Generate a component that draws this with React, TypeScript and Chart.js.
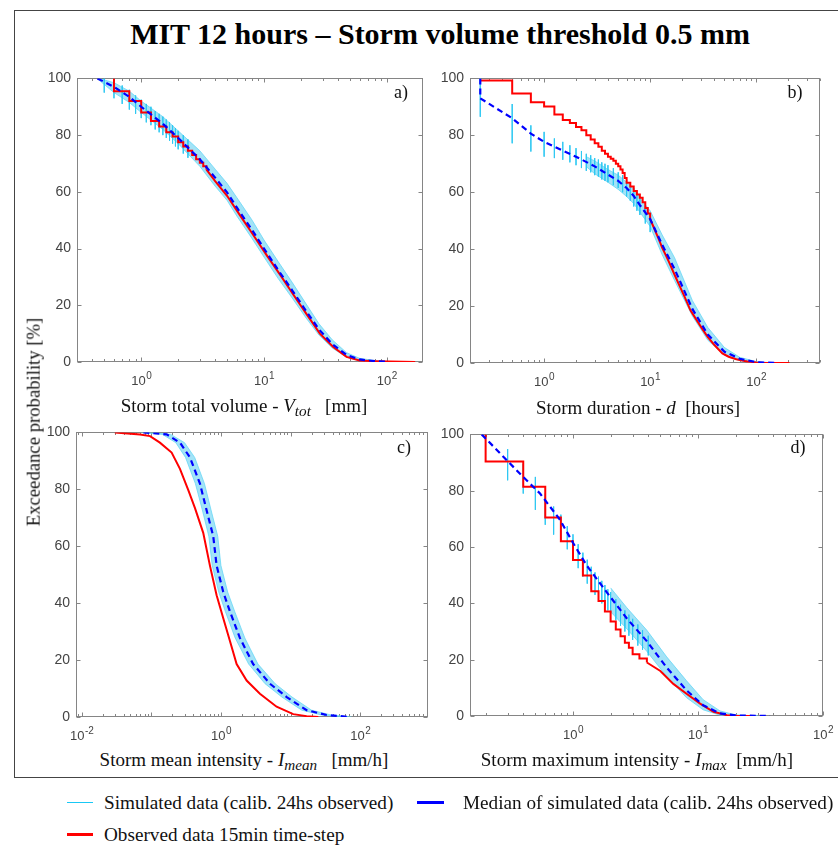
import React, { useEffect, useRef } from 'react';
import { Chart, registerables } from 'chart.js';
Chart.register(...registerables);

// ---------------- DATA ----------------
// Panel a) Storm total volume [mm]
const aMedX = [0.44, 0.6, 0.8, 1, 1.5, 2, 3, 4, 5, 6, 8, 10, 13, 17, 22, 28, 36, 47, 60, 80, 100];
const aMedY = [100, 97, 93.5, 90, 84, 79, 71.5, 65, 59.8, 54.5, 46.5, 40, 32.5, 25.2, 18, 11.5, 6.3, 2.5, 0.9, 0.3, 0.1];
const aSimX = [0.45, 0.6, 0.8, 1, 1.5, 2, 3, 4, 5, 6, 8, 10, 13, 17, 22, 28, 36, 47, 60, 80, 110];
const aSimHi = [100, 98.5, 95.5, 92, 86.5, 81.5, 74.5, 68, 63, 58, 50, 43, 35.5, 28, 20.5, 13.5, 7.8, 3.3, 1.3, 0.5, 0.1];
const aSimLo = [99.5, 95, 91.5, 88, 82, 77, 69, 62, 57, 51.5, 43.5, 37, 29.5, 22.5, 15.5, 9.5, 4.9, 1.7, 0.5, 0.1, 0];
const aSpikeX = [0.5, 0.6, 0.7, 0.8, 0.9, 1.0, 1.1, 1.2, 1.3, 1.4, 1.5, 1.6, 1.7, 1.8, 1.9, 2.0, 2.2, 2.4];
const aSpikeTop = [100, 99, 97.5, 96, 94, 92.5, 91, 90, 88.5, 87.5, 86.5, 85.5, 84.5, 83.5, 82.5, 81.5, 80, 78.5];
const aSpikeBot = [95, 93, 91, 89, 87.5, 86, 84.5, 83.5, 82, 81, 80, 79, 78, 77, 76, 75, 73.5, 72];
const aObsStepX = [0.6, 0.6, 0.8, 1.0, 1.2, 1.4, 1.6, 1.8, 2.0, 2.2, 2.4, 2.6, 2.8, 3.0, 3.2, 3.4];
const aObsStepY = [100, 95.5, 92, 88, 85, 83, 81, 79.5, 77.5, 76, 74.5, 73, 71.5, 70.3, 69, 67.8];
const aObsX = [3.4, 4, 5, 6.4, 8.2, 10.5, 13.5, 17.3, 22.2, 28.5, 36.6, 47, 60, 80, 106, 170];
const aObsY = [67.8, 63.8, 58.6, 51.6, 44.7, 37.7, 30.8, 23.8, 16.9, 10, 5.3, 1.8, 0.5, 0.3, 0.15, 0];

// Panel b) Storm duration [hours]
const bMedX = [0.25, 0.25, 0.5, 0.75, 1, 1.25, 1.5, 2, 3, 4, 5, 6, 7, 8, 10, 13, 17, 25, 35, 50, 70, 100, 150];
const bMedY = [100, 93, 86, 80.6, 77.7, 76, 74.6, 72.5, 69.1, 66.2, 64, 61.5, 58.7, 55.5, 50.6, 41.5, 33, 19, 10, 4, 1.5, 0.3, 0];
const bSimX = [2.5, 3, 4, 5, 6, 7, 8, 10, 13, 17, 25, 35, 50, 70, 100, 150];
const bSimHi = [72.5, 71, 68, 66, 63.5, 61, 58, 53.5, 45, 37, 22, 12.5, 5.5, 2, 0.5, 0];
const bSimLo = [69, 66.5, 63.5, 61, 58.5, 56, 53, 48, 38, 29, 16.5, 8, 2.8, 0.8, 0.1, 0];
const bSpikeX = [0.25, 0.5, 0.75, 1, 1.25, 1.5, 1.75, 2, 2.25, 2.5, 2.75, 3, 3.25, 3.5, 3.75, 4, 4.5, 5, 5.5, 6, 6.5, 7, 7.5, 8, 9, 10];
const bSpikeTop = [100, 91, 83.5, 81.2, 78.9, 77.7, 76.5, 75.5, 74.5, 73.5, 73, 72, 71.5, 70.5, 70, 69.5, 68.5, 67, 66, 64.5, 63, 61.5, 60, 58.5, 55, 52];
const bSpikeBot = [86.5, 77.2, 74.3, 72.5, 72, 71.4, 70.5, 69.5, 68.5, 67.5, 67, 66, 65.5, 64.5, 64, 63.5, 62.5, 61.5, 60, 58.5, 57, 55, 53.5, 52, 49, 46];
const bObsStepX = [0.25, 0.5, 0.75, 1, 1.25, 1.5, 1.75, 2, 2.25, 2.5, 2.75, 3, 3.25, 3.5, 3.75, 4, 4.25, 4.5, 4.75, 5, 5.25, 5.5, 5.75, 6, 6.5, 7, 7.5, 8, 8.5, 9, 9.5, 10];
const bObsStepY = [99.3, 94.7, 91.6, 90.1, 87.3, 85.4, 84.3, 82.9, 81.8, 80, 78.5, 77.2, 76, 74.6, 73.5, 72.5, 71.8, 71.1, 70, 69.1, 68, 66.8, 65, 63.3, 62, 60.4, 59.2, 58.1, 56.5, 54.5, 52.5, 50.6];
const bObsX = [10, 11, 12, 13, 14, 15, 17, 19, 21, 24, 27, 31, 35, 40, 48, 55, 65, 80, 100, 117, 206];
const bObsY = [50.6, 47, 43.7, 40.5, 38, 35.6, 31, 27, 23.5, 18.5, 15.5, 12, 9.1, 6.5, 3.4, 2.2, 1.3, 0.6, 0.2, 0, 0];

// Panel c) Storm mean intensity [mm/h]
const cMedX = [0.077, 0.166, 0.258, 0.359, 0.5, 0.62, 0.776, 0.867, 1.08, 1.35, 1.87, 2.9, 5.05, 8.8, 17, 33, 71];
const cMedY = [100, 99.3, 96.4, 91.2, 82, 72.8, 63.5, 53.2, 43.9, 37, 27.8, 18.6, 11.7, 7, 2.4, 0.7, 0];
const cSimY = [100, 99.3, 96.4, 91.2, 82, 72.8, 63.5, 53.2, 43.9, 37, 27.8, 18.6, 11.7, 7, 2.4, 0.7, 0];
const cSimHiX = [0.09, 0.19, 0.3, 0.42, 0.58, 0.72, 0.9, 1.0, 1.25, 1.58, 2.2, 3.4, 6.0, 10.5, 20, 38, 75];
const cSimLoX = [0.07, 0.145, 0.225, 0.31, 0.43, 0.54, 0.67, 0.75, 0.93, 1.16, 1.6, 2.5, 4.3, 7.5, 14.5, 28, 65];
const cObsX = [0.03, 0.069, 0.096, 0.133, 0.196, 0.258, 0.34, 0.424, 0.557, 0.695, 0.867, 1.08, 1.35, 1.68, 2.34, 3.63, 6.3, 10.9, 17, 25];
const cObsY = [100, 99.3, 98.7, 96.4, 92.9, 87.2, 79.7, 73.4, 64.7, 53.2, 42.8, 34.7, 26.6, 18.6, 12.8, 8.2, 3.6, 1, 0.3, 0];

// Panel d) Storm maximum intensity [mm/h]
const dMedX = [0.186, 0.377, 0.545, 0.787, 1, 1.29, 1.86, 2.69, 3.89, 5.62, 8.1, 11, 15, 20, 37.7];
const dMedY = [100, 86, 79, 69.7, 61.5, 53.4, 44, 34.7, 26.6, 17.2, 9.1, 3.8, 0.9, 0.2, 0];
const dSimX = [2, 2.69, 3.89, 5.62, 8.1, 11, 15, 20, 30];
const dSimHi = [45.5, 38.5, 30.5, 21, 12.5, 5.8, 1.8, 0.4, 0];
const dSimLo = [37, 31, 23, 14, 6.5, 2.2, 0.3, 0.05, 0];
const dSpikeX = [0.3, 0.4, 0.5, 0.6, 0.7, 0.8, 0.9, 1.0, 1.1, 1.2, 1.3, 1.4, 1.5, 1.6, 1.7, 1.8, 1.9, 2.0, 2.2, 2.4, 2.6, 2.8, 3.0, 3.3, 3.6, 4.0];
const dSpikeTop = [94.8, 89.5, 84.9, 79, 74.4, 71.5, 67.4, 64.5, 61, 58, 55.5, 53, 51, 49.5, 48, 46.5, 45, 44, 41.5, 39.5, 37.5, 36, 34.5, 32.5, 30.5, 28.5];
const dSpikeBot = [83.7, 79, 73.2, 67.9, 64.4, 62, 59.2, 56, 52.5, 49.5, 47, 45, 43, 41.5, 40, 38.5, 37.5, 36.5, 34, 32, 30, 28.5, 27, 25, 23.5, 21.5];
const dObsStepX = [0.2, 0.2, 0.4, 0.6, 0.8, 1.0, 1.2, 1.4, 1.6, 1.8, 2.0, 2.2, 2.4, 2.6, 2.8, 3.0, 3.4, 3.9];
const dObsStepY = [100, 90.4, 81.4, 70.5, 62.1, 55.4, 49.9, 44.3, 40.8, 37.1, 33.6, 30.7, 28.3, 26, 24.2, 21.9, 20.4, 19];
const dObsX = [3.9, 5, 6.35, 8.1, 10.4, 13.3, 17, 20, 27.7];
const dObsY = [19, 16, 11.4, 7.9, 4.4, 1.5, 0.3, 0.1, 0];

// Tick labels
const yTicks = [0, 20, 40, 60, 80, 100];
const aLabelExp = [0, 1, 2];
const bLabelExp = [0, 1, 2];
const cLabelExp = [-2, 0, 2];
const dLabelExp = [0, 1, 2];

// ---------------- HELPERS ----------------
const SANS = "'Liberation Sans', Arial, Helvetica, sans-serif";
const SERIF = "'Liberation Serif', 'Times New Roman', serif";
const RED = '#ff0000';
const BLUE = '#0000ff';

const pts = (xs: number[], ys: number[]) => xs.map((x, i) => ({ x, y: ys[i] }));
const spikePts = (xs: number[], tops: number[], bots: number[]) => {
  const out: any[] = [];
  xs.forEach((x, i) => {
    out.push({ x, y: tops[i] }, { x, y: bots[i] }, { x, y: null });
  });
  return out;
};

const bandSets = (hi: any[], lo: any[]) => [
  { data: hi, borderColor: 'rgba(90,212,245,0.7)', borderWidth: 1, pointRadius: 0, fill: false, order: 4 },
  { data: lo, borderColor: 'rgba(90,212,245,0.7)', borderWidth: 1, pointRadius: 0, fill: '-1', backgroundColor: 'rgba(35,188,235,0.42)', order: 4 },
];
const spikeSet = (d: any[]) => ({ data: d, borderColor: 'rgba(45,200,242,0.85)', borderWidth: 1, pointRadius: 0, spanGaps: false, fill: false, order: 3 });
const redSet = (d: any[], stepped: boolean) => ({ data: d, borderColor: RED, borderWidth: 2, pointRadius: 0, fill: false, stepped, order: 1 });
const blueSet = (d: any[]) => ({ data: d, borderColor: BLUE, borderWidth: 2.2, borderDash: [6, 4], pointRadius: 0, fill: false, order: 0 });

const matlabAxes = {
  id: 'matlabAxes',
  beforeDatasetsDraw(chart: any) {
    const { ctx, chartArea: ca, scales } = chart;
    const xs = scales.x;
    const ys = scales.y;
    const l = Math.round(ca.left) + 0.5;
    const r = Math.round(ca.right) - 0.5;
    const t = Math.round(ca.top) + 0.5;
    const b = Math.round(ca.bottom) - 0.5;
    ctx.save();
    ctx.strokeStyle = '#858585';
    ctx.lineWidth = 1;
    ctx.strokeRect(l, t, r - l, b - t);
    ctx.beginPath();
    const lo = Math.floor(Math.log10(xs.min));
    const hi = Math.ceil(Math.log10(xs.max));
    for (let e = lo; e <= hi; e++) {
      for (let k = 1; k <= 9; k++) {
        const v = k * Math.pow(10, e);
        if (v < xs.min * 0.999 || v > xs.max * 1.001) continue;
        const px = Math.round(xs.getPixelForValue(v)) + 0.5;
        const len = k === 1 ? 4 : 2.5;
        ctx.moveTo(px, b);
        ctx.lineTo(px, b - len);
        ctx.moveTo(px, t);
        ctx.lineTo(px, t + len);
      }
    }
    for (const v of yTicks) {
      const py = Math.round(ys.getPixelForValue(v)) + 0.5;
      ctx.moveTo(l, py);
      ctx.lineTo(l + 4, py);
      ctx.moveTo(r, py);
      ctx.lineTo(r - 4, py);
    }
    ctx.stroke();
    // decade labels 10^n
    const exps: number[] = chart.options.plugins.matlabAxes.exps;
    ctx.fillStyle = '#444';
    ctx.textBaseline = 'alphabetic';
    ctx.textAlign = 'left';
    for (const e of exps) {
      const px = xs.getPixelForValue(Math.pow(10, e));
      ctx.font = `13px ${SANS}`;
      const w1 = ctx.measureText('10').width;
      const es = String(e);
      ctx.font = `10px ${SANS}`;
      const w2 = ctx.measureText(es).width;
      const x0 = px - (w1 + w2) / 2;
      const by = ca.bottom + 23;
      ctx.font = `13px ${SANS}`;
      ctx.fillText('10', x0, by);
      ctx.font = `10px ${SANS}`;
      ctx.fillText(es, x0 + w1 + 0.5, by - 6);
    }
    ctx.restore();
  },
};

type PanelDef = {
  rect: [number, number, number, number];
  xMin: number;
  xMax: number;
  exps: number[];
  datasets: any[];
};

const PADL = 40;
const PADT = 10;
const PADR = 14;
const PADB = 30;

const panels: PanelDef[] = [
  {
    rect: [77, 74, 423, 362], xMin: 0.3, xMax: 197, exps: aLabelExp,
    datasets: [
      blueSet(pts(aMedX, aMedY)),
      redSet(pts(aObsStepX, aObsStepY), true),
      redSet(pts(aObsX, aObsY), false),
      spikeSet(spikePts(aSpikeX, aSpikeTop, aSpikeBot)),
      ...bandSets(pts(aSimX, aSimHi), pts(aSimX, aSimLo)),
    ],
  },
  {
    rect: [470, 74, 820, 363], xMin: 0.2, xMax: 400, exps: bLabelExp,
    datasets: [
      blueSet(pts(bMedX, bMedY)),
      redSet(pts(bObsStepX, bObsStepY), true),
      redSet(pts(bObsX, bObsY), false),
      spikeSet(spikePts(bSpikeX, bSpikeTop, bSpikeBot)),
      ...bandSets(pts(bSimX, bSimHi), pts(bSimX, bSimLo)),
    ],
  },
  {
    rect: [76, 428, 428, 717], xMin: 0.0083, xMax: 940, exps: cLabelExp,
    datasets: [
      blueSet(pts(cMedX, cMedY)),
      redSet(pts(cObsX, cObsY), false),
      ...bandSets(pts(cSimHiX, cSimY), pts(cSimLoX, cSimY)),
    ],
  },
  {
    rect: [470, 430, 823, 716], xMin: 0.15, xMax: 100, exps: dLabelExp,
    datasets: [
      blueSet(pts(dMedX, dMedY)),
      redSet(pts(dObsStepX, dObsStepY), true),
      redSet(pts(dObsX, dObsY), false),
      spikeSet(spikePts(dSpikeX, dSpikeTop, dSpikeBot)),
      ...bandSets(pts(dSimX, dSimHi), pts(dSimX, dSimLo)),
    ],
  },
];

function PanelChart({ def }: { def: PanelDef }) {
  const ref = useRef<HTMLCanvasElement>(null);
  const [l, t, r, b] = def.rect;
  const w = r - l + PADL + PADR;
  const h = b - t + PADT + PADB;
  useEffect(() => {
    if (!ref.current) return;
    const chart = new Chart(ref.current, {
      type: 'line',
      data: { datasets: def.datasets },
      options: {
        animation: false,
        responsive: false,
        maintainAspectRatio: false,
        events: [],
        layout: { padding: { top: PADT, right: PADR, left: 0, bottom: 0 } },
        plugins: {
          legend: { display: false },
          tooltip: { enabled: false },
          title: { display: false },
          matlabAxes: { exps: def.exps },
        } as any,
        scales: {
          x: {
            type: 'logarithmic',
            min: def.xMin,
            max: def.xMax,
            ticks: { display: false },
            grid: { display: false, drawTicks: false },
            border: { display: false },
            afterFit: (s: any) => { s.height = PADB; },
          },
          y: {
            type: 'linear',
            min: 0,
            max: 100,
            ticks: { stepSize: 20, padding: 6, color: '#444', font: { family: SANS, size: 14 } },
            grid: { display: false, drawTicks: false },
            border: { display: false },
            afterFit: (s: any) => { s.width = PADL; },
          },
        },
      } as any,
      plugins: [matlabAxes as any],
    });
    return () => chart.destroy();
  }, []);
  return (
    <canvas
      ref={ref}
      width={w}
      height={h}
      style={{ position: 'absolute', left: l - PADL, top: t - PADT, width: w, height: h }}
    />
  );
}

const Txt = ({ x, y, children, style }: any) => (
  <div
    style={{
      position: 'absolute', left: x, top: y, transform: 'translate(-50%,-50%)',
      whiteSpace: 'nowrap', lineHeight: 1, fontFamily: SERIF, color: '#111', ...style,
    }}
  >
    {children}
  </div>
);

const Var = ({ v, sub }: { v: string; sub: string }) => (
  <span>
    <i>{v}</i>
    <sub style={{ fontSize: '0.8em', verticalAlign: '-0.3em' }}><i>{sub}</i></sub>
  </span>
);

const legendText = {
  position: 'absolute' as const, transform: 'translateY(-50%)', whiteSpace: 'nowrap' as const,
  lineHeight: 1, fontFamily: SERIF, fontSize: 19.2, color: '#111',
};

export default function App() {
  const axisFont = { fontSize: 19 };
  return (
    <div style={{ position: 'absolute', left: 0, top: 0, width: 838, height: 845, overflow: 'hidden', background: '#fff' }}>
      <div style={{ position: 'absolute', left: 14, top: 10, width: 840, height: 768, border: '1px solid #444', boxSizing: 'border-box' }} />
      <Txt x={440} y={34} style={{ fontSize: 30, fontWeight: 'bold', color: '#000' }}>
        MIT 12 hours – Storm volume threshold 0.5 mm
      </Txt>
      {panels.map((p, i) => <PanelChart key={i} def={p} />)}
      <Txt x={401} y={92} style={{ fontSize: 18 }}>a)</Txt>
      <Txt x={795} y={92} style={{ fontSize: 18 }}>b)</Txt>
      <Txt x={404} y={447} style={{ fontSize: 18 }}>c)</Txt>
      <Txt x={798} y={447} style={{ fontSize: 18 }}>d)</Txt>
      <Txt x={244} y={407} style={axisFont}>
        Storm total volume - <Var v="V" sub="tot" />&nbsp;&nbsp; [mm]
      </Txt>
      <Txt x={638} y={407} style={axisFont}>
        Storm duration - <i>d</i>&nbsp; [hours]
      </Txt>
      <Txt x={244} y={761} style={axisFont}>
        Storm mean intensity - <Var v="I" sub="mean" />&nbsp;&nbsp; [mm/h]
      </Txt>
      <Txt x={637} y={761} style={axisFont}>
        Storm maximum intensity - <Var v="I" sub="max" />&nbsp; [mm/h]
      </Txt>
      <div
        style={{
          position: 'absolute', left: 34, top: 422, transform: 'translate(-50%,-50%) rotate(-90deg)',
          whiteSpace: 'nowrap', lineHeight: 1, fontFamily: SERIF, fontSize: 18.7, color: '#111',
        }}
      >
        Exceedance probability [%]
      </div>
      {/* legend */}
      <div style={{ position: 'absolute', left: 67, top: 801.5, width: 26, height: 1.2, background: '#19c8f5' }} />
      <div style={{ position: 'absolute', left: 417, top: 801, width: 27, height: 3, background: BLUE }} />
      <div style={{ position: 'absolute', left: 67, top: 833, width: 26, height: 2.5, background: RED }} />
      <div style={{ ...legendText, left: 104, top: 803 }}>Simulated data (calib. 24hs observed)</div>
      <div style={{ ...legendText, left: 463, top: 803 }}>Median of simulated data (calib. 24hs observed)</div>
      <div style={{ ...legendText, left: 104, top: 835 }}>Observed data 15min time-step</div>
    </div>
  );
}
